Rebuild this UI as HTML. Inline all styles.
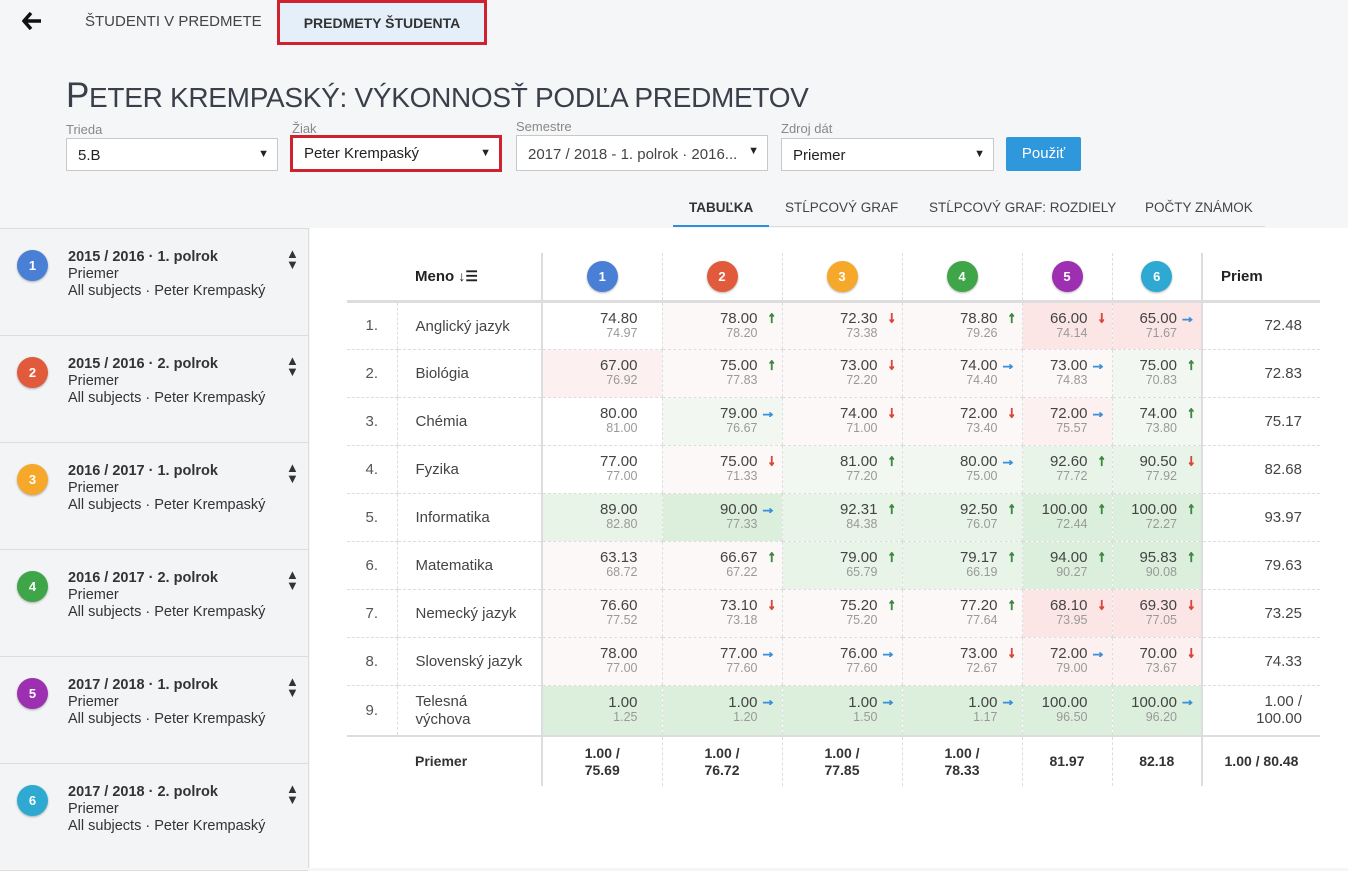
<!DOCTYPE html>
<html><head><meta charset="utf-8">
<style>
*{box-sizing:border-box;margin:0;padding:0}
body{width:1348px;height:868px;overflow:hidden;background:#f5f6f8;font-family:"Liberation Sans",Arial,sans-serif;color:#333;position:relative}
.a{position:absolute}
.lbl{font-size:13px;color:#888}
.sel{background:#fff;border:1px solid #c8c8c8;height:33px;font-size:15px;padding:8px 11px;color:#222}
.sel:after{content:"▼";position:absolute;right:8px;top:9px;font-size:11px;color:#222}
.tab{font-size:13.5px;color:#444;top:200px}
#side{left:0;top:228px;width:309px;height:640px;background:#f3f4f6;border-right:1px solid #ddd;border-top:1px solid #ddd}
.ent{position:absolute;left:0;width:308px;height:107px;border-bottom:1px solid #ddd}
.ent .c{position:absolute;left:17px;top:21px}
.ent .t{position:absolute;left:68px;top:20px;font-size:14.5px;line-height:17px;color:#333}
.ent .t b{color:#333}
.ent .ud{position:absolute;left:286px;top:19px;font-size:13px;line-height:11px;color:#333}
.c{width:31px;height:31px;border-radius:50%;color:#fff;font-weight:bold;font-size:13px;text-align:center;line-height:31px;box-shadow:0 1px 2px rgba(0,0,0,.3)}
#main{left:310px;top:228px;width:1038px;height:640px;background:#fff}
table{position:absolute;left:347px;top:253px;border-collapse:collapse;table-layout:fixed;font-size:15px}
td,th{border-left:1px dashed #ddd;border-bottom:1px dashed #ddd;position:relative}
th{height:48px;border-bottom:3px solid #ddd;font-weight:bold;font-size:15px;color:#222;text-align:left;border-left:1px dashed #ddd}
tr td:first-child,tr th:first-child{border-left:none}
tbody td{height:48px}
td.n{text-align:center;color:#555}
td.m{padding-left:18px;color:#444;line-height:18px;padding-top:2px}
td.v{text-align:right;padding-right:24px;line-height:15px;color:#444}
td.v s{text-decoration:none;font-size:12.5px;color:#999;display:block}
td.v i{font-style:normal;position:absolute;right:6px;top:7px;font-size:15px;font-weight:bold;-webkit-text-stroke:1.2px currentColor;line-height:15px}
i.u{color:#3b8a3e}i.d{color:#d8463c}i.r{color:#3a90d8}
td.p{text-align:right;padding-right:18px;color:#444;border-left:2px solid #ddd}
.sep{border-left:2px solid #ddd!important}
tr.f td{height:50px;border-top:2px solid #ddd;border-bottom:none;font-weight:bold;text-align:center;line-height:17px;font-size:14px;color:#333}
.p1{background:#fdf8f8}.p1b{background:#fcf0f0}.p2{background:#fbe5e5}
.g1{background:#f2f8f1}.g1b{background:#e9f4e8}.g2{background:#dcefdc}
</style></head><body>

<svg class="a" style="left:22px;top:12px" width="20" height="18" viewBox="0 0 20 18"><path d="M9 1 L2 9 L9 17 M2 9 L19 9" stroke="#111" stroke-width="3.5" fill="none"/></svg>
<div class="a" style="left:85px;top:13px;font-size:15px;color:#444">ŠTUDENTI V PREDMETE</div>
<div class="a" style="left:277px;top:0;width:210px;height:45px;border:3px solid #d0222e;background:#e4eff9;font-size:14px;font-weight:bold;color:#333;text-align:center;line-height:40px">PREDMETY ŠTUDENTA</div>

<div class="a" style="left:66px;top:76px;font-size:28px;color:#3a3f4a;white-space:nowrap;letter-spacing:-0.3px"><span style="font-size:35px">P</span>ETER KREMPASKÝ: VÝKONNOSŤ PODĽA PREDMETOV</div>

<div class="a lbl" style="left:66px;top:122px">Trieda</div>
<div class="a sel" style="left:66px;top:138px;width:212px">5.B</div>
<div class="a lbl" style="left:292px;top:121px">Žiak</div>
<div class="a" style="left:290px;top:135px;width:212px;height:37px;border:3px solid #d0222e"></div>
<div class="a sel" style="left:293px;top:138px;width:206px;border:none;height:31px;padding-top:7px">Peter Krempaský</div>
<div class="a lbl" style="left:516px;top:119px">Semestre</div>
<div class="a sel" style="left:516px;top:135px;width:252px;height:36px;color:#444;padding-top:10px">2017 / 2018 - 1. polrok · 2016...</div>
<div class="a lbl" style="left:781px;top:121px">Zdroj dát</div>
<div class="a sel" style="left:781px;top:138px;width:213px">Priemer</div>
<div class="a" style="left:1006px;top:137px;width:75px;height:34px;background:#2f97dc;border-radius:2px;color:#fff;font-size:15px;text-align:center;line-height:34px">Použiť</div>

<div class="a tab" style="left:689px;font-weight:bold;color:#333">TABUĽKA</div>
<div class="a tab" style="left:785px">STĹPCOVÝ GRAF</div>
<div class="a tab" style="left:929px">STĹPCOVÝ GRAF: ROZDIELY</div>
<div class="a tab" style="left:1145px">POČTY ZNÁMOK</div>
<div class="a" style="left:673px;top:226px;width:592px;height:1px;background:#ddd"></div>
<div class="a" style="left:673px;top:225px;width:96px;height:2px;background:#2f8fdc"></div>

<div id="side" class="a">
 <div class="ent" style="top:0"><div class="c" style="background:#4a7fd6">1</div><div class="t"><b>2015 / 2016 · 1. polrok</b><br>Priemer<br>All subjects · Peter Krempaský</div><div class="ud">▲<br>▼</div></div>
 <div class="ent" style="top:107px"><div class="c" style="background:#e05a3b">2</div><div class="t"><b>2015 / 2016 · 2. polrok</b><br>Priemer<br>All subjects · Peter Krempaský</div><div class="ud">▲<br>▼</div></div>
 <div class="ent" style="top:214px"><div class="c" style="background:#f5a82a">3</div><div class="t"><b>2016 / 2017 · 1. polrok</b><br>Priemer<br>All subjects · Peter Krempaský</div><div class="ud">▲<br>▼</div></div>
 <div class="ent" style="top:321px"><div class="c" style="background:#3ea549">4</div><div class="t"><b>2016 / 2017 · 2. polrok</b><br>Priemer<br>All subjects · Peter Krempaský</div><div class="ud">▲<br>▼</div></div>
 <div class="ent" style="top:428px"><div class="c" style="background:#9c30b0">5</div><div class="t"><b>2017 / 2018 · 1. polrok</b><br>Priemer<br>All subjects · Peter Krempaský</div><div class="ud">▲<br>▼</div></div>
 <div class="ent" style="top:535px"><div class="c" style="background:#2ea9d2">6</div><div class="t"><b>2017 / 2018 · 2. polrok</b><br>Priemer<br>All subjects · Peter Krempaský</div><div class="ud">▲<br>▼</div></div>
</div>
<div id="main" class="a"></div>

<table>
<colgroup><col style="width:50px"><col style="width:145px"><col style="width:120px"><col style="width:120px"><col style="width:120px"><col style="width:120px"><col style="width:90px"><col style="width:90px"><col style="width:118px"></colgroup>
<thead><tr><th style="border-left:none"></th><th style="padding-left:18px;border-left:none">Meno <span style="font-size:14px">↓☰</span></th>
<th class="sep"><div class="c" style="background:#4a7fd6;margin:0 auto">1</div></th>
<th><div class="c" style="background:#e05a3b;margin:0 auto">2</div></th>
<th><div class="c" style="background:#f5a82a;margin:0 auto">3</div></th>
<th><div class="c" style="background:#3ea549;margin:0 auto">4</div></th>
<th><div class="c" style="background:#9c30b0;margin:0 auto">5</div></th>
<th><div class="c" style="background:#2ea9d2;margin:0 auto">6</div></th>
<th class="sep" style="padding-left:18px">Priem</th></tr></thead>
<tbody>
<tr><td class="n">1.</td><td class="m">Anglický jazyk</td>
<td class="v sep">74.80<s>74.97</s></td><td class="v p1">78.00<i class="u">↑</i><s>78.20</s></td><td class="v p1">72.30<i class="d">↓</i><s>73.38</s></td><td class="v p1">78.80<i class="u">↑</i><s>79.26</s></td><td class="v p2">66.00<i class="d">↓</i><s>74.14</s></td><td class="v p2">65.00<i class="r">→</i><s>71.67</s></td><td class="p">72.48</td></tr>
<tr><td class="n">2.</td><td class="m">Biológia</td>
<td class="v sep p1b">67.00<s>76.92</s></td><td class="v p1">75.00<i class="u">↑</i><s>77.83</s></td><td class="v p1">73.00<i class="d">↓</i><s>72.20</s></td><td class="v p1">74.00<i class="r">→</i><s>74.40</s></td><td class="v p1">73.00<i class="r">→</i><s>74.83</s></td><td class="v g1">75.00<i class="u">↑</i><s>70.83</s></td><td class="p">72.83</td></tr>
<tr><td class="n">3.</td><td class="m">Chémia</td>
<td class="v sep">80.00<s>81.00</s></td><td class="v g1">79.00<i class="r">→</i><s>76.67</s></td><td class="v p1">74.00<i class="d">↓</i><s>71.00</s></td><td class="v p1">72.00<i class="d">↓</i><s>73.40</s></td><td class="v p1b">72.00<i class="r">→</i><s>75.57</s></td><td class="v g1">74.00<i class="u">↑</i><s>73.80</s></td><td class="p">75.17</td></tr>
<tr><td class="n">4.</td><td class="m">Fyzika</td>
<td class="v sep">77.00<s>77.00</s></td><td class="v p1">75.00<i class="d">↓</i><s>71.33</s></td><td class="v g1">81.00<i class="u">↑</i><s>77.20</s></td><td class="v g1">80.00<i class="r">→</i><s>75.00</s></td><td class="v g1b">92.60<i class="u">↑</i><s>77.72</s></td><td class="v g1b">90.50<i class="d">↓</i><s>77.92</s></td><td class="p">82.68</td></tr>
<tr><td class="n">5.</td><td class="m">Informatika</td>
<td class="v sep g1b">89.00<s>82.80</s></td><td class="v g2">90.00<i class="r">→</i><s>77.33</s></td><td class="v g1b">92.31<i class="u">↑</i><s>84.38</s></td><td class="v g1b">92.50<i class="u">↑</i><s>76.07</s></td><td class="v g2">100.00<i class="u">↑</i><s>72.44</s></td><td class="v g2">100.00<i class="u">↑</i><s>72.27</s></td><td class="p">93.97</td></tr>
<tr><td class="n">6.</td><td class="m">Matematika</td>
<td class="v sep p1">63.13<s>68.72</s></td><td class="v p1">66.67<i class="u">↑</i><s>67.22</s></td><td class="v g1b">79.00<i class="u">↑</i><s>65.79</s></td><td class="v g1b">79.17<i class="u">↑</i><s>66.19</s></td><td class="v g2">94.00<i class="u">↑</i><s>90.27</s></td><td class="v g2">95.83<i class="u">↑</i><s>90.08</s></td><td class="p">79.63</td></tr>
<tr><td class="n">7.</td><td class="m">Nemecký jazyk</td>
<td class="v sep p1">76.60<s>77.52</s></td><td class="v p1">73.10<i class="d">↓</i><s>73.18</s></td><td class="v p1">75.20<i class="u">↑</i><s>75.20</s></td><td class="v p1">77.20<i class="u">↑</i><s>77.64</s></td><td class="v p2">68.10<i class="d">↓</i><s>73.95</s></td><td class="v p2">69.30<i class="d">↓</i><s>77.05</s></td><td class="p">73.25</td></tr>
<tr><td class="n">8.</td><td class="m">Slovenský jazyk</td>
<td class="v sep p1">78.00<s>77.00</s></td><td class="v p1">77.00<i class="r">→</i><s>77.60</s></td><td class="v p1">76.00<i class="r">→</i><s>77.60</s></td><td class="v p1">73.00<i class="d">↓</i><s>72.67</s></td><td class="v p1b">72.00<i class="r">→</i><s>79.00</s></td><td class="v p1b">70.00<i class="d">↓</i><s>73.67</s></td><td class="p">74.33</td></tr>
<tr><td class="n" style="height:51px">9.</td><td class="m">Telesná<br>výchova</td>
<td class="v sep g2">1.00<s>1.25</s></td><td class="v g2">1.00<i class="r">→</i><s>1.20</s></td><td class="v g2">1.00<i class="r">→</i><s>1.50</s></td><td class="v g2">1.00<i class="r">→</i><s>1.17</s></td><td class="v g2">100.00<s>96.50</s></td><td class="v g2">100.00<i class="r">→</i><s>96.20</s></td><td class="p" style="line-height:17px">1.00 /<br>100.00</td></tr>
<tr class="f"><td></td><td style="text-align:left;padding-left:18px;border-left:none">Priemer</td>
<td class="sep">1.00 /<br>75.69</td><td>1.00 /<br>76.72</td><td>1.00 /<br>77.85</td><td>1.00 /<br>78.33</td><td>81.97</td><td>82.18</td><td class="sep">1.00 / 80.48</td></tr>
</tbody></table>
</body></html>
